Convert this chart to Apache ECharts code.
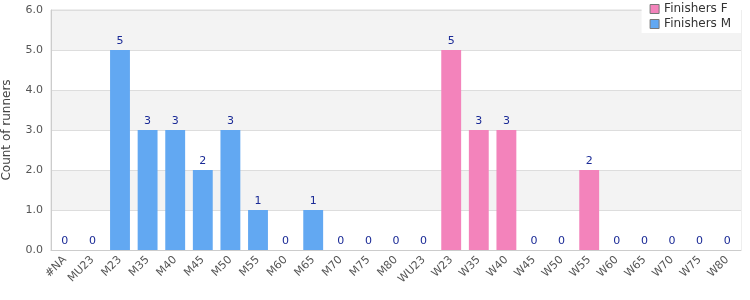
<!DOCTYPE html>
<html><head><meta charset="utf-8">
<script src="https://cdn.jsdelivr.net/npm/echarts@6/dist/echarts.min.js"></script>
<style>html,body{margin:0;padding:0;background:#fff}#c{width:750px;height:300px}</style>
</head><body><div id="c"></div>
<script>
const categories = ['#NA','MU23','M23','M35','M40','M45','M50','M55','M60','M65','M70','M75','M80','WU23','W23','W35','W40','W45','W50','W55','W60','W65','W70','W75','W80'];
const finishersM = [0,0,5,3,3,2,3,1,0,1,0,0,0,0,'-','-','-','-','-','-','-','-','-','-','-'];
const finishersF = ['-','-','-','-','-','-','-','-','-','-','-','-','-','-',5,3,3,0,0,2,0,0,0,0,0];
const yTicks = [0,1,2,3,4,5,6];

const chart = echarts.init(document.getElementById('c'));
const font = 'DejaVu Sans';
const lbl = {show:true, position:'top', color:'#1a2a96', fontSize:11, fontFamily:font, distance:3};
chart.setOption({
  animation:false,
  textStyle:{fontFamily:font},
  grid:{left:51, right:9, top:10, bottom:50, show:true, borderColor:'#ddd', borderWidth:1, outerBoundsMode:'none', containLabel:false},
  legend:{
    orient:'vertical', right:9, top:0, backgroundColor:'#fff', padding:[3,10,3,8],
    itemWidth:9, itemHeight:9, itemGap:3,
    textStyle:{fontFamily:font, fontSize:12, color:'#333'},
    data:[{name:'Finishers F', icon:'rect'},{name:'Finishers M', icon:'rect'}],
    itemStyle:{borderColor:'#777', borderWidth:1}
  },
  xAxis:{
    type:'category', data:categories,
    axisLine:{lineStyle:{color:'#ccc'}}, axisTick:{show:false},
    axisLabel:{rotate:45, interval:0, fontSize:11, color:'#555', fontFamily:font, margin:8}
  },
  yAxis:{
    type:'value', min:yTicks[0], max:yTicks[yTicks.length-1], interval:1,
    name:'Count of runners', nameLocation:'middle', nameGap:38,
    nameTextStyle:{fontSize:12, color:'#444', fontFamily:font},
    axisLine:{show:true, lineStyle:{color:'#ccc'}},
    axisLabel:{formatter:v=>v.toFixed(1), fontSize:11, color:'#555', fontFamily:font, margin:8},
    splitLine:{lineStyle:{color:'#ddd'}},
    splitArea:{show:true, areaStyle:{color:['#ffffff','#f3f3f3']}}
  },
  series:[
    {name:'Finishers F', type:'bar', stack:'t', data:finishersF, barWidth:'72%', itemStyle:{color:'#f383bb'}, label:lbl},
    {name:'Finishers M', type:'bar', stack:'t', data:finishersM, barWidth:'72%', itemStyle:{color:'#62a8f2'}, label:lbl}
  ]
});
</script></body></html>
